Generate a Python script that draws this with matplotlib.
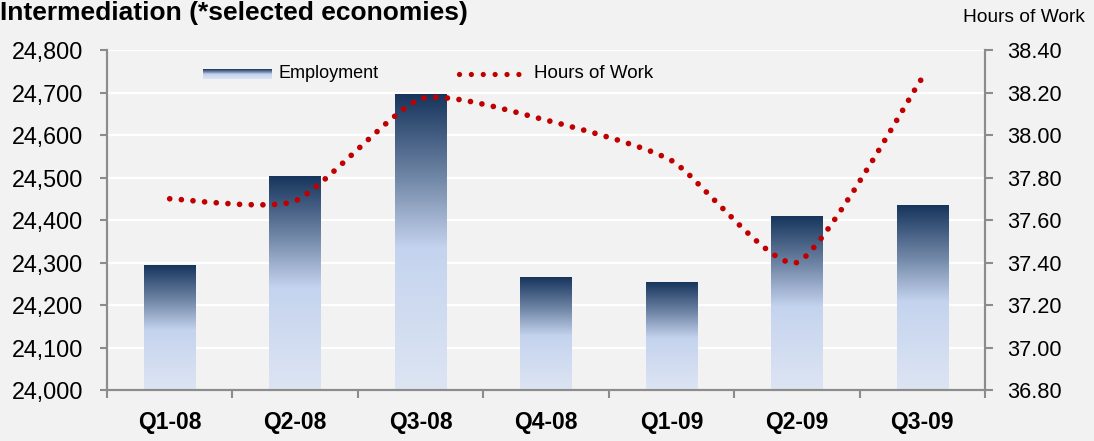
import numpy as np
import matplotlib
matplotlib.use("Agg")
import matplotlib.pyplot as plt
from matplotlib.path import Path
from matplotlib.patches import PathPatch
from matplotlib.colors import LinearSegmentedColormap
from matplotlib.ticker import FuncFormatter

# data
quarters = ["Q1-08", "Q2-08", "Q3-08", "Q4-08", "Q1-09", "Q2-09", "Q3-09"]
employment = [24292, 24503, 24695, 24265, 24253, 24408, 24435]
hours = [37.70, 37.69, 38.17, 38.07, 37.88, 37.40, 38.27]

emp_ticks = [24000, 24100, 24200, 24300, 24400, 24500, 24600, 24700, 24800]
hrs_ticks = [36.80, 37.00, 37.20, 37.40, 37.60, 37.80, 38.00, 38.20, 38.40]

BG = "#F2F2F2"
AXC = "#8C8C8C"
RED = "#C00000"

# dark navy at top, light blue from the middle down
grad = LinearSegmentedColormap.from_list(
    "bar", [(0.0, "#DDE5F3"), (0.48, "#C4D3EE"), (0.72, "#7086A6"), (1.0, "#17355D")])
grad_img = np.linspace(0, 1, 256).reshape(-1, 1)

fig = plt.figure(figsize=(10.94, 4.41), dpi=100, facecolor=BG)
ax = fig.add_axes([0.0978, 0.1156, 0.8026, 0.771])
ax.set_facecolor(BG)
ax2 = ax.twinx()

x = np.arange(len(quarters))
width = 0.41
ymin, ymax = emp_ticks[0], emp_ticks[-1]

for yt in emp_ticks[1:]:
    ax.axhline(yt, color="white", lw=1.6, zorder=0)

bars = ax.bar(x, np.array(employment) - ymin, width, bottom=ymin,
              color="none", edgecolor="none", zorder=2)
for b in bars:
    x0, y0 = b.get_x(), b.get_y()
    ax.imshow(grad_img, cmap=grad, origin="lower", aspect="auto",
              extent=(x0, x0 + b.get_width(), y0, y0 + b.get_height()), zorder=2)
ax.set_xlim(-0.5, len(quarters) - 0.5)
ax.set_ylim(ymin, ymax)

# smoothed dotted line (cardinal spline -> cubic bezier, Excel-like smoothing)
k = 0.1
pts = np.column_stack([x, hours]).astype(float)
verts = [pts[0]]
codes = [Path.MOVETO]
n = len(pts)
for i in range(n - 1):
    p_prev = pts[max(i - 1, 0)]
    p0, p1 = pts[i], pts[i + 1]
    p_next = pts[min(i + 2, n - 1)]
    c1 = p0 + (p1 - p_prev) * k
    c2 = p1 - (p_next - p0) * k
    verts += [c1, c2, p1]
    codes += [Path.CURVE4] * 3
curve = PathPatch(Path(verts, codes), fill=False, edgecolor=RED, lw=4.1,
                  linestyle=(0, (0.001, 2.05)), capstyle="round", zorder=3)
ax2.add_patch(curve)
ax2.set_ylim(hrs_ticks[0], hrs_ticks[-1])
ax2.set_yticks(hrs_ticks)
ax2.yaxis.set_major_formatter(FuncFormatter(lambda v, p: f"{v:.2f}"))

ax.set_yticks(emp_ticks)
ax.yaxis.set_major_formatter(FuncFormatter(lambda v, p: f"{int(v):,}"))
ax.set_xticks(x)
ax.set_xticklabels(quarters, fontweight="bold", fontsize=16.5, family="Liberation Sans")
ax.set_xticks(np.arange(-0.5, len(quarters)), minor=True)
ax.tick_params(axis="x", which="major", length=0, pad=15)
ax.tick_params(axis="x", which="minor", length=6, width=1.5, color=AXC, direction="out")
ax.tick_params(axis="y", length=5, width=1.5, color=AXC, direction="out", labelsize=16.8, pad=12)
for lab in ax.get_yticklabels():
    lab.set_family("Liberation Sans")
ax2.tick_params(axis="y", length=6, width=1.5, color=AXC, direction="out", labelsize=15.7, pad=10)
for lab in ax2.get_yticklabels():
    lab.set_family("Liberation Sans")

for a in (ax, ax2):
    a.spines["top"].set_visible(False)
    for s in ("left", "right", "bottom"):
        a.spines[s].set_color(AXC)
        a.spines[s].set_linewidth(1.5)

# legend drawn by hand
lax = fig.add_axes([203 / 1094, 1 - 79 / 441, 69 / 1094, 10 / 441])
lax.imshow(grad_img, cmap=grad, origin="lower", aspect="auto")
lax.axis("off")
fig.text(279 / 1094, 1 - 74 / 441, "Employment", fontsize=13,
         family="Liberation Sans", va="center", ha="left")
fig.add_artist(plt.Line2D([459 / 1094, 520 / 1094], [1 - 74 / 441, 1 - 74 / 441],
                          color=RED, lw=3.8, linestyle=(0, (0.001, 2.25)),
                          dash_capstyle="round"))
fig.text(534 / 1094, 1 - 74 / 441, "Hours of Work", fontsize=13.5,
         family="Liberation Sans", va="center", ha="left")

fig.text(0.0, 1 - 20 / 441, "Intermediation (*selected economies)", fontsize=19,
         fontweight="bold", family="Liberation Sans", ha="left", va="baseline")
fig.text(1085 / 1094, 1 - 18 / 441, "Hours of Work", fontsize=13.8,
         family="Liberation Sans", ha="right", va="center")

fig.savefig("out.png", dpi=100, facecolor=BG)
